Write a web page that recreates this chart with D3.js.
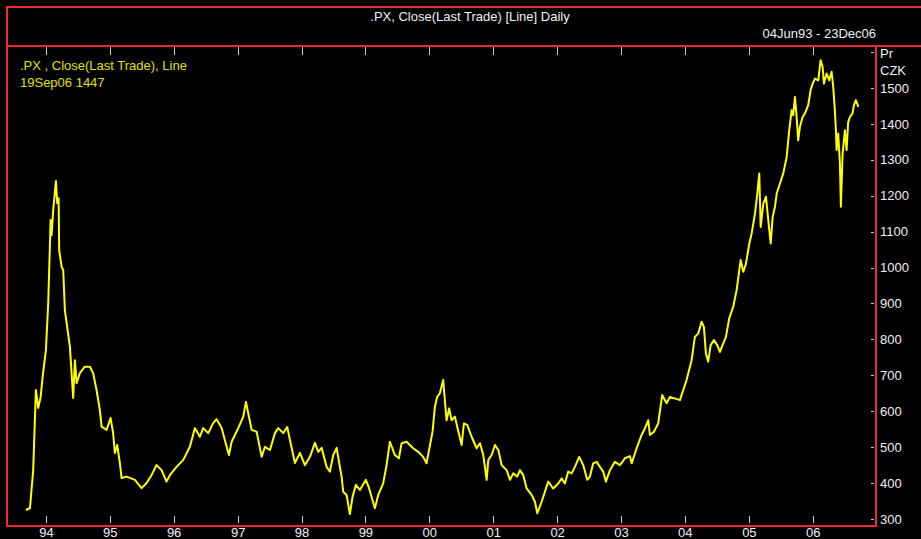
<!DOCTYPE html>
<html>
<head>
<meta charset="utf-8">
<script src="https://cdn.jsdelivr.net/npm/d3@7.9.0/dist/d3.min.js"></script>
<style>
  html, body { margin: 0; padding: 0; background: #000; }
  svg { display: block; font-family: "Liberation Sans", Arial, sans-serif; }
</style>
</head>
<body>
<svg id="chart" width="921" height="539"></svg>
<script>
// time as decimal year, value = PX close in CZK
const when = [
  1993.687, 1993.750, 1993.801, 1993.843, 1993.879, 1993.917, 1993.948, 1994.000,
  1994.036, 1994.074, 1994.089, 1994.114, 1994.157, 1994.177, 1994.199, 1994.208,
  1994.246, 1994.271, 1994.297, 1994.340, 1994.376, 1994.402, 1994.427, 1994.454,
  1994.480, 1994.532, 1994.610, 1994.689, 1994.740, 1994.793, 1994.845, 1994.872,
  1994.950, 1995.013, 1995.053, 1995.080, 1995.116, 1995.158, 1995.185, 1995.263,
  1995.393, 1995.498, 1995.576, 1995.654, 1995.732, 1995.811, 1995.889, 1995.941,
  1996.045, 1996.149, 1996.254, 1996.332, 1996.410, 1996.462, 1996.540, 1996.618,
  1996.671, 1996.750, 1996.828, 1996.864, 1996.906, 1997.009, 1997.088, 1997.130,
  1997.181, 1997.219, 1997.297, 1997.376, 1997.427, 1997.506, 1997.584, 1997.635,
  1997.714, 1997.776, 1997.830, 1997.897, 1997.975, 1998.053, 1998.132, 1998.210,
  1998.262, 1998.315, 1998.393, 1998.445, 1998.497, 1998.550, 1998.590, 1998.628,
  1998.653, 1998.706, 1998.757, 1998.800, 1998.851, 1998.914, 1999.008, 1999.059,
  1999.149, 1999.201, 1999.279, 1999.332, 1999.384, 1999.462, 1999.525, 1999.567,
  1999.645, 1999.748, 1999.827, 1999.905, 1999.958, 2000.000, 2000.052, 2000.088,
  2000.124, 2000.166, 2000.218, 2000.244, 2000.271, 2000.311, 2000.349, 2000.401,
  2000.437, 2000.506, 2000.542, 2000.593, 2000.662, 2000.740, 2000.792, 2000.844,
  2000.897, 2000.922, 2000.975, 2001.027, 2001.079, 2001.132, 2001.210, 2001.262,
  2001.313, 2001.376, 2001.418, 2001.470, 2001.523, 2001.601, 2001.653, 2001.689,
  2001.758, 2001.809, 2001.861, 2001.939, 2002.018, 2002.071, 2002.122, 2002.174,
  2002.227, 2002.279, 2002.346, 2002.409, 2002.471, 2002.514, 2002.565, 2002.618,
  2002.670, 2002.722, 2002.764, 2002.827, 2002.905, 2002.983, 2003.062, 2003.140,
  2003.167, 2003.245, 2003.323, 2003.375, 2003.427, 2003.453, 2003.516, 2003.583,
  2003.646, 2003.714, 2003.766, 2003.923, 2004.027, 2004.106, 2004.157, 2004.209,
  2004.262, 2004.298, 2004.329, 2004.365, 2004.403, 2004.454, 2004.506, 2004.548,
  2004.600, 2004.642, 2004.693, 2004.756, 2004.809, 2004.872, 2004.913, 2004.955,
  2005.007, 2005.044, 2005.096, 2005.132, 2005.163, 2005.185, 2005.226, 2005.268,
  2005.304, 2005.342, 2005.373, 2005.409, 2005.436, 2005.487, 2005.539, 2005.592,
  2005.632, 2005.670, 2005.695, 2005.722, 2005.748, 2005.773, 2005.800, 2005.842,
  2005.878, 2005.930, 2005.967, 2005.999, 2006.035, 2006.087, 2006.124, 2006.155,
  2006.176, 2006.218, 2006.259, 2006.296, 2006.321, 2006.347, 2006.363, 2006.374,
  2006.399, 2006.426, 2006.441, 2006.468, 2006.504, 2006.530, 2006.555, 2006.582,
  2006.624, 2006.645, 2006.676, 2006.715
];
const close = [
  325, 330, 436, 659, 609, 639, 695, 770,
  901, 1132, 1090, 1160, 1241, 1179, 1193, 1048,
  1002, 993, 881, 826, 779, 706, 637, 742,
  678, 706, 724, 724, 706, 659, 603, 557,
  548, 581, 539, 484, 506, 456, 414, 418,
  409, 386, 400, 422, 450, 436, 404, 422,
  445, 464, 501, 553, 529, 553, 539, 567,
  578, 553, 501, 478, 515, 553, 585, 626,
  581, 548, 543, 473, 501, 492, 539, 553,
  539, 556, 511, 456, 484, 450, 473, 512,
  487, 498, 445, 432, 478, 498, 456, 418,
  376, 367, 314, 362, 395, 381, 409, 385,
  330, 367, 399, 450, 515, 478, 469, 511,
  515, 497, 487, 473, 455, 495, 543, 612,
  640, 650, 687, 631, 575, 608, 575, 585,
  557, 506, 566, 562, 529, 497, 511, 478,
  409, 464, 478, 506, 492, 450, 436, 409,
  427, 418, 436, 422, 385, 367, 348, 316,
  348, 376, 404, 385, 399, 413, 399, 432,
  427, 445, 473, 450, 409, 418, 455, 459,
  445, 432, 404, 436, 459, 450, 469, 475,
  455, 497, 534, 552, 575, 534, 543, 566,
  645, 622, 640, 631, 687, 742, 807, 816,
  849, 835, 761, 738, 784, 798, 784, 765,
  789, 807, 858, 891, 937, 1021, 988, 1011,
  1067, 1095, 1150, 1206, 1262, 1113, 1178, 1197,
  1132, 1067, 1141, 1169, 1206, 1234, 1262, 1308,
  1382, 1438, 1424, 1475, 1419, 1354, 1392, 1419,
  1429, 1452, 1494, 1512, 1526, 1521, 1577, 1559,
  1512, 1540, 1521, 1545, 1503, 1438, 1382, 1327,
  1373, 1290, 1169, 1317, 1382, 1327, 1404, 1419,
  1429, 1452, 1466, 1447
];
const yearLabels = ["94", "95", "96", "97", "98", "99", "00", "01", "02", "03", "04", "05", "06"];
const priceTicks = [300, 400, 500, 600, 700, 800, 900, 1000, 1100, 1200, 1300, 1400, 1500, 1600];

const title = ".PX, Close(Last Trade) [Line] Daily";
const range = "04Jun93 - 23Dec06";
const legend1 = ".PX , Close(Last Trade), Line";
const legend2 = "19Sep06 1447";

function toDate(y) {
  const yr = Math.floor(y);
  const start = new Date(yr, 0, 1), end = new Date(yr + 1, 0, 1);
  return new Date(+start + (y - yr) * (end - start));
}

const data = when.map((t, i) => ({ date: toDate(t), value: close[i] }));

const svg = d3.select("#chart");
const frame = { left: 7, top: 46, right: 876, bottom: 526 };
const fs = 13;

const x = d3.scaleTime()
  .domain([new Date(1993, 5, 4), new Date(2006, 11, 23)])
  .range([9, 875]);
const y = d3.scaleLinear().domain([300, 1600]).range([519, 52]);

// header box
svg.append("rect")
  .attr("x", 7).attr("y", 7).attr("width", 930).attr("height", frame.top - 7)
  .attr("fill", "none").attr("stroke", "#f02a2a").attr("stroke-width", 2);

svg.append("text")
  .attr("x", 470).attr("y", 21)
  .attr("text-anchor", "middle")
  .attr("fill", "#f0f0f0").attr("font-size", fs)
  .text(title);

svg.append("text")
  .attr("x", 876).attr("y", 38)
  .attr("text-anchor", "end")
  .attr("fill", "#f0f0f0").attr("font-size", fs)
  .text(range);

// year ticks, top and bottom
const yearDates = yearLabels.map((d, i) => new Date(1994 + i, 0, 1));
const tickColor = "#c8c8c8";

svg.append("g")
  .attr("transform", `translate(0,${frame.bottom})`)
  .call(d3.axisBottom(x).tickValues(yearDates).tickSize(0).tickFormat((d, i) => yearLabels[i]))
  .call(g => g.select(".domain").remove())
  .call(g => g.selectAll("text").attr("fill", "#f0f0f0").attr("font-size", fs)
    .attr("font-family", "Liberation Sans, Arial, sans-serif").attr("dy", "0.71em").attr("y", 2));

svg.append("g").selectAll("line")
  .data(yearDates)
  .join("line")
  .attr("x1", d => Math.round(x(d)) + 0.5).attr("x2", d => Math.round(x(d)) + 0.5)
  .attr("y1", 516).attr("y2", 523)
  .attr("stroke", tickColor).attr("stroke-width", 1);

svg.append("g").selectAll("line")
  .data(yearDates)
  .join("line")
  .attr("x1", d => Math.round(x(d)) + 0.5).attr("x2", d => Math.round(x(d)) + 0.5)
  .attr("y1", 47).attr("y2", 55)
  .attr("stroke", tickColor).attr("stroke-width", 1);

// price axis on the right
svg.append("g")
  .attr("transform", `translate(${frame.right},0)`)
  .call(d3.axisRight(y).tickValues(priceTicks).tickSize(0)
    .tickFormat(d => d === 1600 ? "" : d))
  .call(g => g.select(".domain").remove())
  .call(g => g.selectAll("text").attr("fill", "#f0f0f0").attr("font-size", fs)
    .attr("font-family", "Liberation Sans, Arial, sans-serif").attr("x", 4));

svg.append("g").selectAll("line")
  .data(priceTicks)
  .join("line")
  .attr("x1", frame.right - 5).attr("x2", frame.right - 2)
  .attr("y1", d => Math.round(y(d)) + 0.5).attr("y2", d => Math.round(y(d)) + 0.5)
  .attr("stroke", tickColor).attr("stroke-width", 1);

svg.append("text").attr("x", 880).attr("y", 58)
  .attr("fill", "#f0f0f0").attr("font-size", fs).text("Pr");
svg.append("text").attr("x", 880).attr("y", 75)
  .attr("fill", "#f0f0f0").attr("font-size", fs).text("CZK");

// the line
const line = d3.line().x(d => x(d.date)).y(d => y(d.value));
svg.append("path")
  .datum(data)
  .attr("d", line)
  .attr("fill", "none")
  .attr("stroke", "#ffff00")
  .attr("stroke-width", 2)
  .attr("stroke-linejoin", "round");

// legend text
svg.append("text").attr("x", 20).attr("y", 70)
  .attr("fill", "#e0e000").attr("font-size", fs).text(legend1);
svg.append("text").attr("x", 20).attr("y", 87)
  .attr("fill", "#e0e000").attr("font-size", fs).text(legend2);

// plot frame
svg.append("rect")
  .attr("x", frame.left).attr("y", frame.top)
  .attr("width", frame.right - frame.left).attr("height", frame.bottom - frame.top)
  .attr("fill", "none").attr("stroke", "#f02a2a").attr("stroke-width", 2);
</script>
</body>
</html>
